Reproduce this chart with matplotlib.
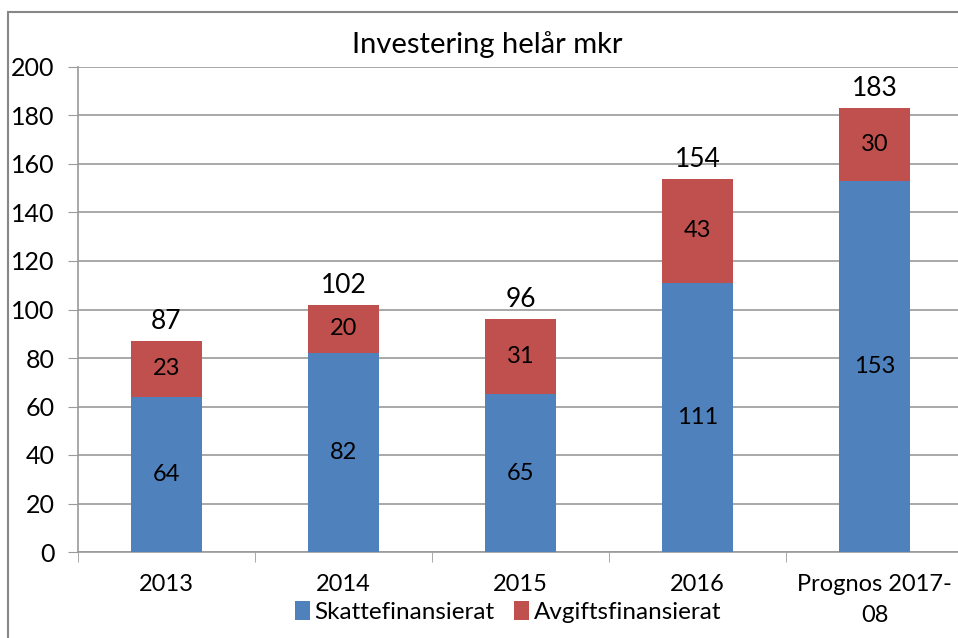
import matplotlib.pyplot as plt
from matplotlib.patches import Rectangle

categories = ['2013', '2014', '2015', '2016', 'Prognos 2017-\n08']
skatt = [64, 82, 65, 111, 153]
avgift = [23, 20, 31, 43, 30]
y_ticks = [0, 20, 40, 60, 80, 100, 120, 140, 160, 180, 200]

BLUE = '#4F81BD'
RED = '#C0504D'
GRID = '#9A9A9A'

plt.rcParams['font.family'] = ['Lato', 'DejaVu Sans']

fig = plt.figure(figsize=(9.58, 6.38), dpi=100)
fig.patches.append(Rectangle((8 / 958, -0.1), 2, 1.1 - 12 / 638, transform=fig.transFigure,
                             fill=False, edgecolor='#878787', linewidth=1.5))

ax = fig.add_axes([78 / 958, 86 / 638, 885 / 958, 485 / 638])
x = list(range(len(categories)))
totals = [a + b for a, b in zip(skatt, avgift)]

ax.bar(x, skatt, width=0.4, color=BLUE, label='Skattefinansierat', zorder=3)
ax.bar(x, avgift, width=0.4, bottom=skatt, color=RED, label='Avgiftsfinansierat', zorder=3)

for i in x:
    ax.text(i, skatt[i] / 2, str(skatt[i]), ha='center', va='center', fontsize=17, zorder=4)
    ax.text(i, skatt[i] + avgift[i] / 2, str(avgift[i]), ha='center', va='center', fontsize=17, zorder=4)
    ax.annotate(str(totals[i]), (i, totals[i]), xytext=(0, 14), textcoords='offset points',
                ha='center', va='center', fontsize=19)

ax.set_xlim(-0.5, 4.5)
ax.set_ylim(0, 200)
ax.set_yticks(y_ticks)
ax.yaxis.grid(True, color=GRID, linewidth=1.2, zorder=0)
ax.tick_params(axis='y', length=7.5, color=GRID, labelsize=18, pad=9.5)
ax.set_xticks(x)
ax.set_xticklabels(categories, fontsize=17, linespacing=1.55)
ax.tick_params(axis='x', which='major', length=0, pad=16)
ax.set_xticks([i + 0.5 for i in range(-1, 5)], minor=True)
ax.tick_params(axis='x', which='minor', length=7.5, color=GRID)
for s in ['top', 'right']:
    ax.spines[s].set_visible(False)
for s in ['left', 'bottom']:
    ax.spines[s].set_color(GRID)
    ax.spines[s].set_linewidth(1.2)

fig.text(487 / 958, 1 - 45 / 638, 'Investering helår mkr', ha='center', va='center', fontsize=21)

fig.legend(loc='center', bbox_to_anchor=(508 / 958, 1 - 612 / 638), ncol=2, frameon=False,
           fontsize=17.5, handlelength=0.6, handleheight=0.8, handletextpad=0.2, columnspacing=0.8)

fig.savefig('out.png', dpi=100)
